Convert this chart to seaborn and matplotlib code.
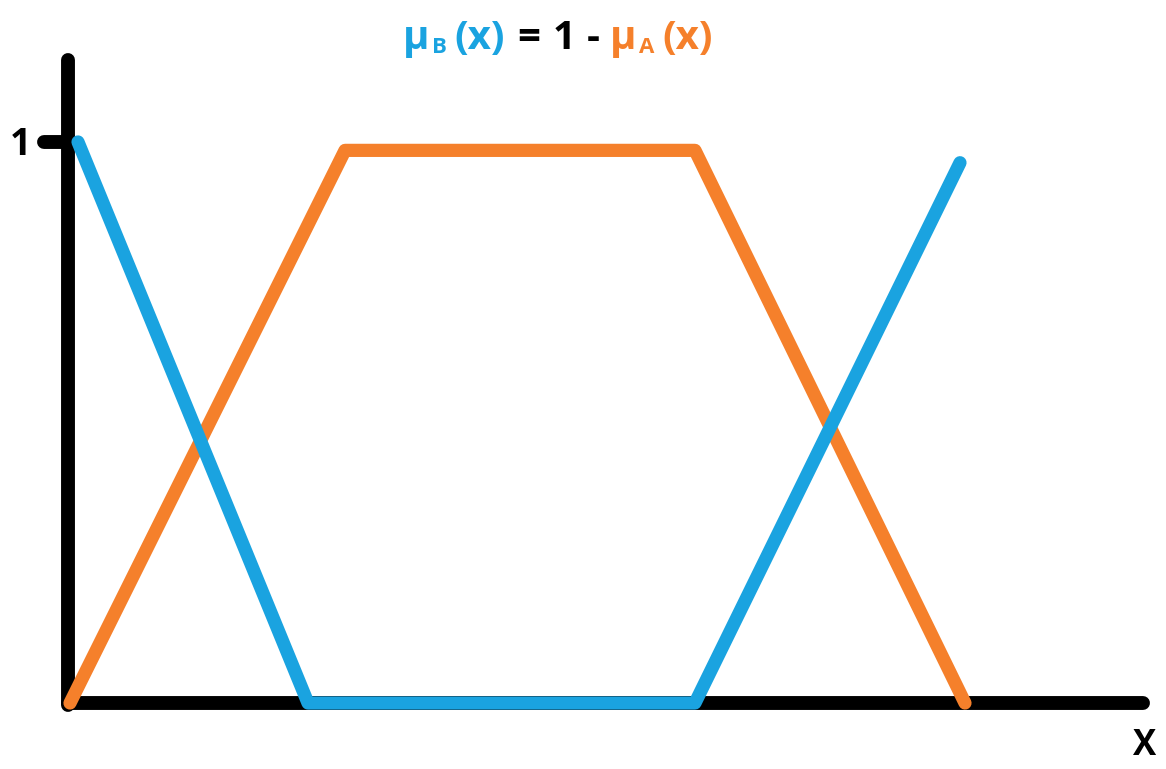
import numpy as np
import pandas as pd
import matplotlib.pyplot as plt
import seaborn as sns

# membership functions (x in arbitrary units, y = membership degree)
mu_a_x = [0.0, 2.75, 6.25, 8.95]
mu_a_y = [0.0, 0.985, 0.985, 0.0]
mu_b_x = [0.08, 2.38, 6.25, 8.90]
mu_b_y = [1.0, 0.0, 0.0, 0.963]

# axis extents
axis_x = [-0.02, 10.73]
axis_y = [-0.003, 1.146]
tick_y = [1.0]
tick_labels = ['1']

blue = '#1aa3e0'
orange = '#f5802b'

sns.set_style('white')
plt.rcParams['font.family'] = ['Open Sans', 'DejaVu Sans']

fig = plt.figure(figsize=(11.66, 7.69), dpi=100)
ax = fig.add_axes([0, 0, 1, 1])
ax.set_xlim(-0.70, 10.96)
ax.set_ylim(-0.1176, 1.253)
ax.axis('off')

# hand-drawn style black axes
ax.plot([axis_x[0], axis_x[0]], axis_y, color='black', lw=10, solid_capstyle='round')
ax.plot(axis_x, [0, 0], color='black', lw=10, solid_capstyle='round')
for ty in tick_y:
    ax.plot([-0.26, 0.02], [ty, ty], color='black', lw=10, solid_capstyle='round')

df_a = pd.DataFrame({'x': mu_a_x, 'y': mu_a_y})
df_b = pd.DataFrame({'x': mu_b_x, 'y': mu_b_y})
sns.lineplot(data=df_a, x='x', y='y', sort=False, color=orange, lw=9.5,
             solid_capstyle='round', solid_joinstyle='round', ax=ax)
sns.lineplot(data=df_b, x='x', y='y', sort=False, color=blue, lw=9.5,
             solid_capstyle='round', solid_joinstyle='round', ax=ax)

for ty, lab in zip(tick_y, tick_labels):
    ax.text(-0.49, ty - 0.005, lab, ha='center', va='center', fontsize=27,
            fontweight='bold', color='black')
ax.text(10.75, -0.077, 'X', ha='center', va='center', fontsize=25,
        fontweight='bold', color='black')

# title pieces laid out one after another: (text, colour, subscript?, gap before in px)
pieces = [('μ', blue, False, 0), ('B', blue, True, 2), ('(x)', blue, False, 8),
          ('=', 'black', False, 12), ('1', 'black', False, 12), ('-', 'black', False, 12),
          ('μ', orange, False, 10), ('A', orange, True, 2), ('(x)', orange, False, 8)]
W, H = 1166, 769
renderer = fig.canvas.get_renderer()
texts = []
x = 0
for txt, col, sub, gap in pieces:
    fs = 16 if sub else 29
    py = 53 if sub else 49
    t = fig.text(0, 1 - py / H, txt, color=col, fontsize=fs,
                 fontweight='bold', ha='left', va='baseline')
    x += gap
    texts.append((t, x))
    x += t.get_window_extent(renderer).width
left = 558 - x / 2
for t, off in texts:
    t.set_x((left + off) / W)

fig.savefig('out.png', dpi=100)
